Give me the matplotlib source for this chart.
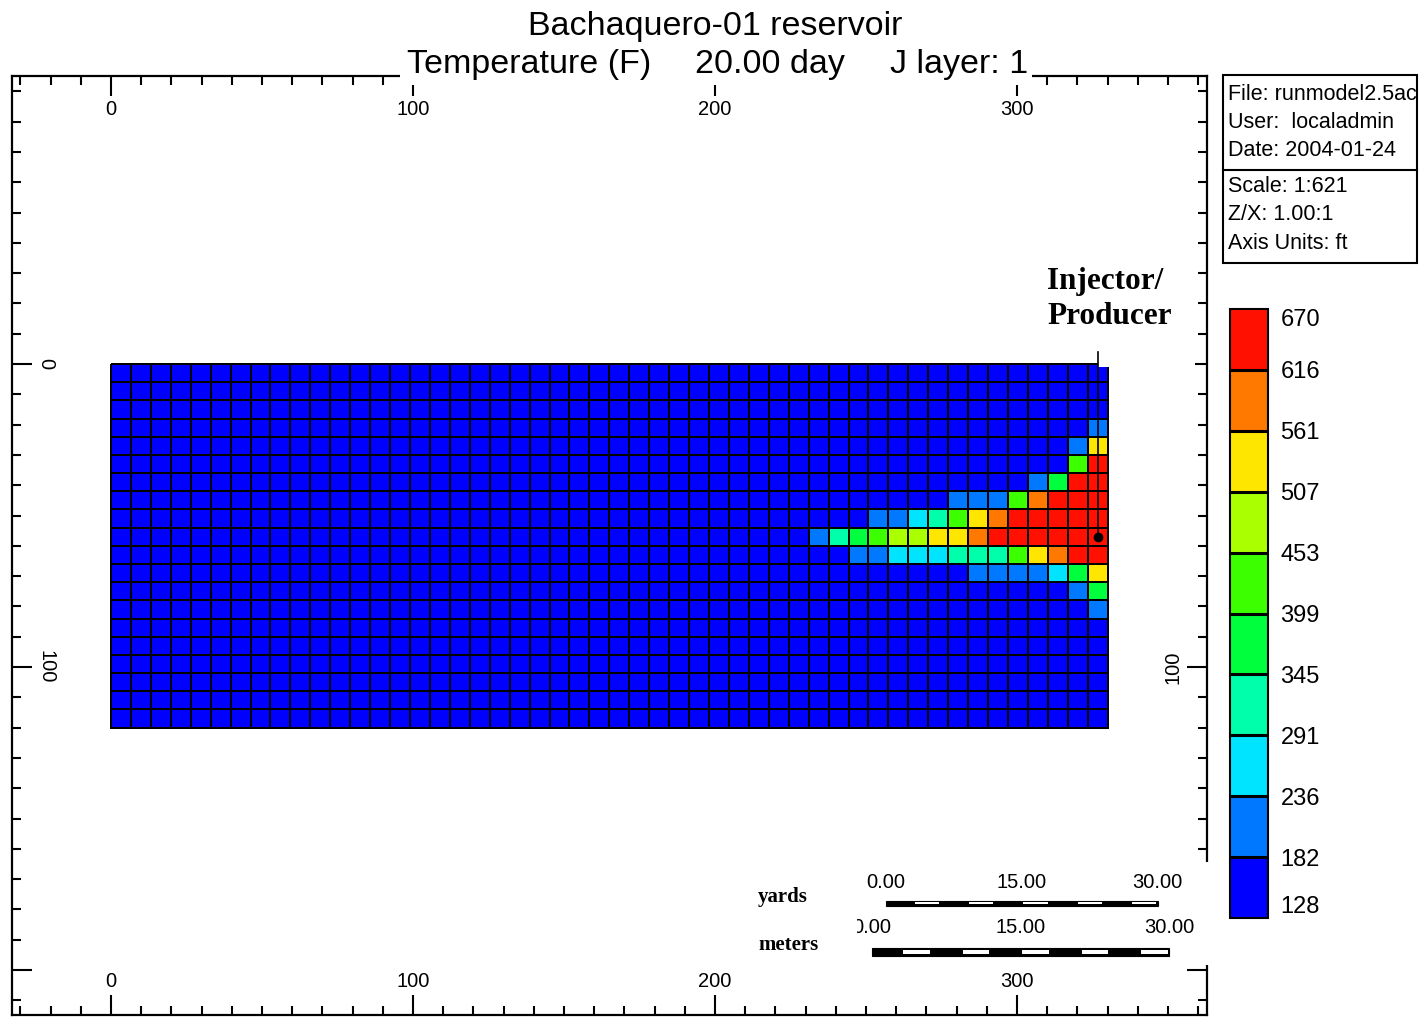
"""plot.py
    Re-draw of a simulator map view: Bachaquero-01 reservoir temperature,
    J layer 1 after 20 days of injection.

    Out: out.png (1423 x 1018 px)
"""

# Imports
import numpy as np
import matplotlib as mpl
mpl.use("Agg")
import matplotlib.pyplot as plt
from matplotlib.colors import ListedColormap, BoundaryNorm
from matplotlib.cm import ScalarMappable
from matplotlib.patches import Rectangle
from matplotlib.transforms import Affine2D, Bbox, TransformedBbox

plt.rcParams["font.family"] = ["Liberation Sans", "DejaVu Sans"]

# Picture size in pixels
W, H = 1423, 1018

# Temperature classes (F) and colour of each class
TEMP_BOUNDS = [128, 182, 236, 291, 345, 399, 453, 507, 561, 616, 670]
CLASS_COLORS = ["#0000FE", "#0078FF", "#00E4FF", "#00FFAA", "#00FF3C",
                "#3CFF00", "#AAFF00", "#FFE600", "#FF7800", "#FF1000"]

# Grid blocks (ft)
NI, NK = 50, 20
DX, DZ = 6.6, 6.0

# Heated blocks: class index of columns 35..49 for each row, every other block is class 0
PLUME_COL0 = 35
PLUME_ROWS = {
    3:  "000000000000001",
    4:  "000000000000017",
    5:  "000000000000059",
    6:  "000000000001499",
    7:  "000000011158999",
    8:  "000112357899999",
    9:  "134566778999999",
    10: "001122233357899",
    11: "000000001111247",
    12: "000000000000014",
    13: "000000000000001",
}

# Well (ft)
WELL_X = 326.7
WELL_TOP = -4.0
WELL_Z = 57.0

# Axis ticks
X_MAJOR = [0, 100, 200, 300]
X_LABELS = ["0", "100", "200", "300"]
Z_MAJOR = [0, 100, 200]
Z_LABELS = ["0", "100", ""]
MINOR_STEP = 10

# Scale bars: length of 30 units in ft
YARDS_FT = 90.0
METERS_FT = 98.43
SCALE_LABELS = ["0.00", "15.00", "30.00"]

# Info panel
INFO_TOP = ["File: runmodel2.5ac", "User:  localadmin", "Date: 2004-01-24"]
INFO_BOTTOM = ["Scale: 1:621", "Z/X: 1.00:1", "Axis Units: ft"]


def build_grid() -> np.ndarray:
    """ Temperature of every block, class mid values """
    mids = [(a + b) / 2 for a, b in zip(TEMP_BOUNDS[:-1], TEMP_BOUNDS[1:])]
    grid = np.full((NK, NI), mids[0])
    for row, codes in PLUME_ROWS.items():
        for k, c in enumerate(codes):
            grid[row, PLUME_COL0 + k] = mids[int(c)]
    return grid


def scale_bar(ax, x0, z0, length, height, inner):
    """ Black bar of 10 parts, white dash in every second part """
    ax.add_patch(Rectangle((x0, z0), length, height, facecolor="black",
                           edgecolor="black", lw=0.8, zorder=5, clip_on=False))
    seg = length / 10
    for i in range(1, 10, 2):
        ax.add_patch(Rectangle((x0 + i * seg + 0.5, z0 + (height - inner) / 2),
                               seg - 1.0, inner, facecolor="white",
                               edgecolor="none", zorder=6, clip_on=False))


fig = plt.figure(figsize=(W / 100, H / 100), dpi=100)
fig.patch.set_facecolor("white")

# pixel coordinates of the picture (y down) -> figure
PX = Affine2D().scale(1.0 / W, -1.0 / H).translate(0, 1) + fig.transFigure

# Main map frame
ax = fig.add_axes([12 / W, 1 - 1015 / H, (1207 - 12) / W, (1015 - 76) / H])
ax.set_xlim(-32.78, 362.9)
ax.set_ylim(214.85, -95.05)

cmap = ListedColormap(CLASS_COLORS)
norm = BoundaryNorm(TEMP_BOUNDS, cmap.N)

x_edges = np.arange(NI + 1) * DX
z_edges = np.arange(NK + 1) * DZ
ax.pcolormesh(x_edges, z_edges, build_grid(), cmap=cmap, norm=norm,
              edgecolors="black", linewidth=1.3, zorder=2)

# Well trace and perforation
ax.plot([WELL_X, WELL_X], [WELL_TOP, WELL_Z], color="black", lw=1.2, zorder=7)
ax.plot(WELL_X, WELL_Z, "o", color="black", ms=6, zorder=7)

# Ticks on all four sides, labels inside the frame
ax.set_xticks(X_MAJOR)
ax.set_xticklabels(X_LABELS)
ax.set_yticks(Z_MAJOR)
ax.set_yticklabels(Z_LABELS)
ax.set_xticks(np.arange(-30, 361, MINOR_STEP), minor=True)
ax.set_yticks(np.arange(-90, 211, MINOR_STEP), minor=True)
ax.tick_params(which="both", direction="in", top=True, right=True, width=1.5,
               labeltop=True, labelright=True, labelsize=14.5)
ax.tick_params(which="major", length=14.4)
ax.tick_params(which="minor", length=6.8)
ax.tick_params(axis="x", which="major", pad=-31.0)
ax.tick_params(axis="y", which="major", pad=-17.5)
for t in ax.yaxis.get_major_ticks():
    t.label1.set_rotation(270)
    t.label1.set_ha("left")
    t.label1.set_va("center")
    t.label2.set_rotation(90)
    t.label2.set_ha("right")
    t.label2.set_va("center")
for s in ax.spines.values():
    s.set_linewidth(1.6)

# White patches over the frame (label boxes)
for (x, y, w, h) in [(1027, 250, 168, 98), (1098, 347, 97, 20),
                     (1112, 347, 83, 30), (735, 862, 485, 103)]:
    ax.add_patch(Rectangle((x, y), w, h, transform=PX, facecolor="white",
                           edgecolor="none", zorder=4, clip_on=False))

ax.text(1047, 281, "Injector/", transform=PX, family="Liberation Serif",
        weight="bold", fontsize=22.5, va="center", ha="left", zorder=8)
ax.text(1047, 317, "Producer", transform=PX, family="Liberation Serif",
        weight="bold", fontsize=22.5, va="center", ha="left", zorder=8)

# Scale bars (yards / meters)
yd_x0, yd_z0 = 256.6, 177.1
m_x0, m_z0 = 252.0, 192.6
scale_bar(ax, yd_x0, yd_z0, YARDS_FT, 1.65, 0.66)
scale_bar(ax, m_x0, m_z0, METERS_FT, 2.64, 1.3)
for k, lab in enumerate(SCALE_LABELS):
    ax.text(yd_x0 + k * YARDS_FT / 2, yd_z0 - 6.0, lab, fontsize=14.5,
            ha="center", va="center", zorder=6, clip_on=False)
    ax.text(m_x0 + k * METERS_FT / 2, m_z0 - 6.5, lab, fontsize=14.5,
            ha="center", va="center", zorder=6, clip_on=False)
ax.add_patch(Rectangle((740, 912), 117, 50, transform=PX, facecolor="white",
                       edgecolor="none", zorder=6.5, clip_on=False))
ax.text(758, 897, "yards", transform=PX, family="Liberation Serif",
        weight="bold", fontsize=15, va="center", ha="left", zorder=8)
ax.text(758, 945, "meters", transform=PX, family="Liberation Serif",
        weight="bold", fontsize=15, va="center", ha="left", zorder=8)

# Title lines
fig.add_artist(Rectangle((400, 40), 632, 45, transform=PX, facecolor="white",
                         edgecolor="none", zorder=2))
fig.text(715, 26, "Bachaquero-01 reservoir", transform=PX, fontsize=24.5,
         ha="center", va="center")
for x, s in [(407, "Temperature (F)"), (695, "20.00 day"), (890, "J layer: 1")]:
    fig.text(x, 64, s, transform=PX, fontsize=24.5, ha="left", va="center")

# Info panel
fig.add_artist(Rectangle((1223, 75), 194, 188, transform=PX, facecolor="white",
                         edgecolor="black", lw=1.5, zorder=2))
fig.add_artist(plt.Line2D([1223, 1417], [170, 170], transform=PX,
                          color="black", lw=1.5, zorder=2))
clip = TransformedBbox(Bbox([[1223, 75], [1416, 263]]), PX)
for i, s in enumerate(INFO_TOP + INFO_BOTTOM):
    y = 94 + i * 28.5 + (7 if i >= 3 else 0)
    t = fig.text(1228, y, s, transform=PX, fontsize=15.5, ha="left", va="center")
    t.set_clip_box(clip)
    t.set_clip_on(True)

# Colour legend
cax = fig.add_axes([1230 / W, 1 - 918 / H, 38 / W, (918 - 309) / H])
cb = fig.colorbar(ScalarMappable(norm=norm, cmap=cmap), cax=cax,
                  drawedges=True, ticks=TEMP_BOUNDS)
cb.dividers.set_linewidth(2.2)
cb.outline.set_linewidth(1.5)
cb.ax.tick_params(length=0, pad=9, labelsize=17)
cb.ax.set_yticklabels([str(v) for v in TEMP_BOUNDS])
labels = cb.ax.get_yticklabels()
labels[0].set_va("bottom")
labels[-1].set_va("top")

fig.savefig("out.png", dpi=100, facecolor="white")
